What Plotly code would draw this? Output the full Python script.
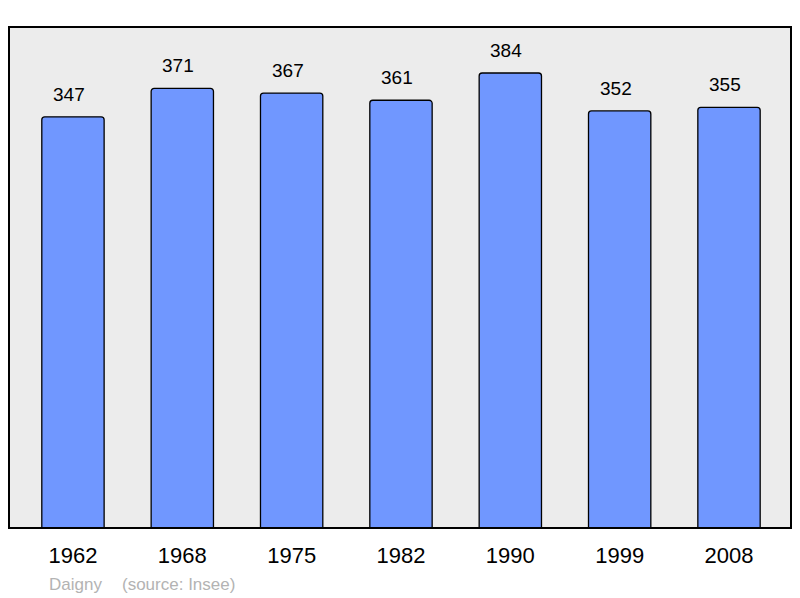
import plotly.graph_objects as go

years = ["1962", "1968", "1975", "1982", "1990", "1999", "2008"]
population = [347, 371, 367, 361, 384, 352, 355]

xs = list(range(len(years)))
FONT = "Liberation Sans, Arial, sans-serif"

fig = go.Figure()
fig.add_trace(go.Bar(
    x=xs, y=population, width=0.57,
    marker=dict(color="#7097ff", line=dict(color="#000000", width=1.3), cornerradius=3),
    hoverinfo="skip",
))
for x, v in zip(xs, population):
    fig.add_annotation(x=x, y=v, text=str(v), showarrow=False, yanchor="bottom",
                       yshift=10, xshift=-4, font=dict(family=FONT, size=19, color="#000"))

fig.add_shape(type="rect", xref="paper", yref="paper", x0=0, y0=0, x1=1, y1=1,
              line=dict(color="#000", width=2), layer="above")

fig.add_annotation(xref="paper", yref="paper", x=(47-9)/782, y=-(584-528)/501, xanchor="left",
                   yanchor="middle", text="Daigny", showarrow=False,
                   font=dict(family=FONT, size=17, color="#b3b3b3"))
fig.add_annotation(xref="paper", yref="paper", x=(120-9)/782, y=-(584-528)/501, xanchor="left",
                   yanchor="middle", text="(source: Insee)", showarrow=False,
                   font=dict(family=FONT, size=17, color="#b3b3b3"))

fig.update_layout(
    width=800, height=598,
    margin=dict(l=9, r=9, t=27, b=70),
    paper_bgcolor="#ffffff", plot_bgcolor="#ececec",
    showlegend=False,
    xaxis=dict(range=[-0.585, 6.567], tickvals=xs, ticktext=years, showgrid=False,
               zeroline=False, ticks="", ticklabelstandoff=12,
               tickfont=dict(family=FONT, size=22, color="#000")),
    yaxis=dict(range=[0, 422.8], showgrid=False, zeroline=False, showticklabels=False),
)
fig.write_html("out.html", config={"displayModeBar": False},
               post_script="document.body.style.margin='0';document.body.style.overflow='hidden';")
